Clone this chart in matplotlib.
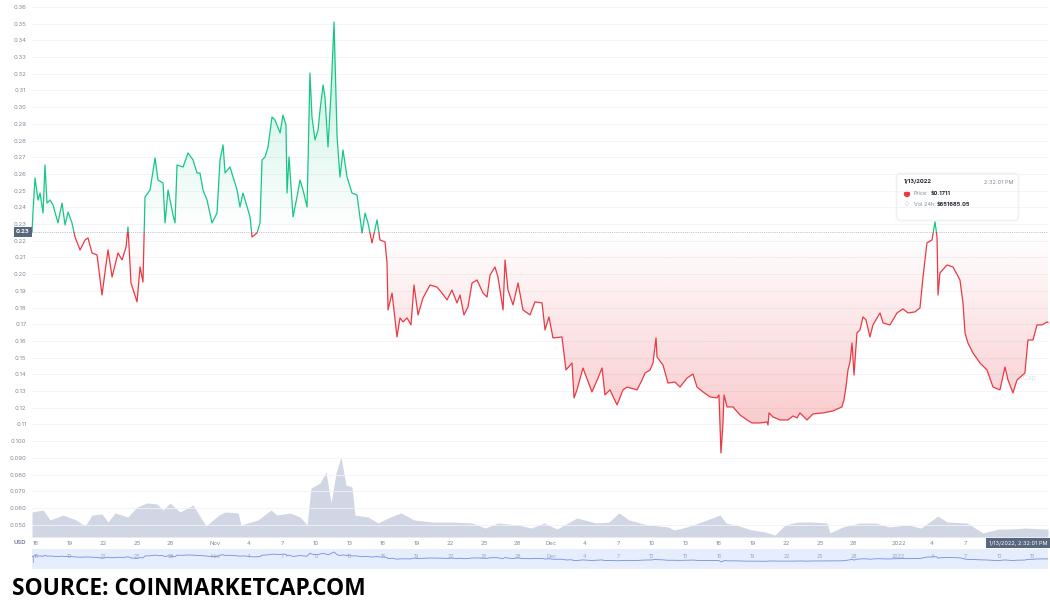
import numpy as np
import matplotlib.pyplot as plt
from matplotlib.patches import Rectangle, FancyBboxPatch, PathPatch, Circle
from matplotlib.colors import to_rgb

plt.rcParams['font.family'] = ['Inter', 'DejaVu Sans']

# price in USD, x = days counted from Oct 16, 2021
days = [-0.36, -0.27, -0.09, 0.18, 0.36, 0.63, 0.80, 0.98, 1.25, 1.52,
        1.96, 2.32, 2.59, 2.86, 3.21, 3.48, 3.93, 4.38, 4.64, 5.00,
        5.45, 5.89, 6.16, 6.43, 6.79, 7.32, 7.68, 8.04, 8.21, 8.48,
        9.02, 9.29, 9.55, 9.73, 10.18, 10.63, 10.89, 11.34, 11.52, 11.79,
        12.23, 12.41, 12.59, 13.13, 13.57, 14.02, 14.38, 14.64, 14.91, 15.27,
        15.71, 16.16, 16.43, 16.70, 16.88, 17.32, 17.95, 18.21, 18.48, 19.11,
        19.29, 19.73, 20.00, 20.18, 20.45, 20.71, 21.07, 21.34, 21.79, 22.05,
        22.32, 22.41, 22.59, 22.95, 23.30, 23.57, 23.84, 24.20, 24.46, 24.64,
        24.91, 25.18, 25.36, 25.63, 25.80, 26.07, 26.34, 26.61, 26.88, 27.14,
        27.41, 27.77, 28.21, 28.66, 29.11, 29.38, 29.64, 30.00, 30.45, 30.71,
        31.16, 31.34, 31.43, 31.79, 32.23, 32.50, 32.77, 33.13, 33.48, 33.75,
        34.11, 34.55, 35.18, 35.80, 36.25, 36.70, 37.14, 37.59, 37.86, 38.21,
        38.57, 38.93, 39.38, 39.91, 40.27, 40.54, 40.98, 41.25, 41.70, 41.88,
        42.14, 42.59, 43.04, 43.48, 44.11, 44.55, 45.18, 45.45, 45.80, 46.16,
        46.96, 47.32, 47.86, 48.04, 48.30, 48.84, 49.64, 50.18, 50.54, 50.80,
        51.25, 51.88, 52.41, 52.77, 53.66, 54.11, 54.38, 54.82, 55.09, 55.36,
        55.45, 55.98, 56.43, 57.05, 57.50, 58.13, 58.66, 59.02, 59.55, 60.18,
        60.80, 60.98, 61.16, 61.34, 61.43, 61.70, 62.23, 62.86, 63.48, 63.93,
        64.64, 65.27, 65.36, 65.45, 65.80, 66.43, 67.14, 67.59, 67.95, 68.21,
        68.84, 69.38, 70.27, 71.16, 71.96, 72.14, 72.32, 72.50, 72.68, 72.86,
        73.04, 73.30, 73.57, 73.84, 74.11, 74.46, 74.73, 75.36, 75.63, 76.25,
        76.88, 77.41, 77.86, 78.48, 78.93, 79.20, 79.55, 80.00, 80.27, 80.45,
        80.54, 80.71, 81.34, 81.88, 82.50, 82.77, 82.95, 83.21, 83.66, 84.29,
        84.91, 85.45, 86.07, 86.52, 86.79, 87.23, 87.59, 88.30, 88.57, 89.02,
        89.38, 89.82, 90.27, 90.36]
price = [0.2253, 0.2372, 0.2576, 0.2444, 0.2486, 0.2366, 0.2654, 0.2426, 0.2444, 0.2414,
         0.2307, 0.2426, 0.2295, 0.2372, 0.2307, 0.2223, 0.2145, 0.2205, 0.2217, 0.2127,
         0.2115, 0.1875, 0.2013, 0.2145, 0.1983, 0.2127, 0.2085, 0.2163, 0.2283, 0.1947,
         0.1834, 0.2043, 0.1953, 0.2462, 0.2504, 0.2696, 0.2564, 0.2546, 0.2307, 0.2504,
         0.2354, 0.2307, 0.2654, 0.2642, 0.2726, 0.2684, 0.2606, 0.2606, 0.2504, 0.2444,
         0.2307, 0.2366, 0.2684, 0.2774, 0.2606, 0.2642, 0.2504, 0.2402, 0.2486, 0.2343,
         0.2223, 0.2247, 0.2307, 0.2684, 0.2702, 0.2762, 0.2941, 0.2923, 0.2846, 0.2953,
         0.2893, 0.2486, 0.2702, 0.2343, 0.2462, 0.2564, 0.2504, 0.2402, 0.3205, 0.2941,
         0.2804, 0.2863, 0.2983, 0.3133, 0.3061, 0.2762, 0.3085, 0.3510, 0.2822, 0.2582,
         0.2744, 0.2582, 0.2486, 0.2474, 0.2247, 0.2366, 0.2307, 0.2187, 0.2325, 0.2205,
         0.2193, 0.2067, 0.1786, 0.1887, 0.1624, 0.1738, 0.1714, 0.1738, 0.1696, 0.1935,
         0.1756, 0.1857, 0.1935, 0.1923, 0.1887, 0.1846, 0.1905, 0.1828, 0.1875, 0.1756,
         0.1804, 0.1947, 0.1965, 0.1887, 0.1863, 0.1995, 0.2043, 0.1983, 0.1786, 0.2085,
         0.1905, 0.1816, 0.1947, 0.1786, 0.1756, 0.1834, 0.1828, 0.1666, 0.1744, 0.1618,
         0.1624, 0.1426, 0.1468, 0.1259, 0.1307, 0.1438, 0.1295, 0.1378, 0.1438, 0.1277,
         0.1307, 0.1217, 0.1307, 0.1324, 0.1307, 0.1366, 0.1408, 0.1426, 0.1468, 0.1618,
         0.1504, 0.1456, 0.1348, 0.1354, 0.1324, 0.1378, 0.1402, 0.1324, 0.1295, 0.1265,
         0.1259, 0.1277, 0.0929, 0.1109, 0.1277, 0.1205, 0.1205, 0.1157, 0.1127, 0.1109,
         0.1109, 0.1115, 0.1097, 0.1169, 0.1145, 0.1127, 0.1127, 0.1151, 0.1139, 0.1169,
         0.1127, 0.1163, 0.1169, 0.1181, 0.1205, 0.1247, 0.1324, 0.1426, 0.1474, 0.1588,
         0.1396, 0.1648, 0.1666, 0.1744, 0.1726, 0.1624, 0.1696, 0.1768, 0.1708, 0.1696,
         0.1768, 0.1792, 0.1768, 0.1774, 0.1798, 0.1983, 0.2187, 0.2205, 0.2313, 0.2223,
         0.1875, 0.2007, 0.2055, 0.2043, 0.1965, 0.1828, 0.1648, 0.1588, 0.1528, 0.1468,
         0.1426, 0.1324, 0.1307, 0.1444, 0.1366, 0.1289, 0.1366, 0.1408, 0.1606, 0.1606,
         0.1696, 0.1696, 0.1714, 0.1711]
base_price = 0.2253

# 24h volume, millions of USD
vol_days = [-0.36, 0.63, 1.25, 2.41, 3.57, 4.38, 5.00, 5.89, 6.43, 7.05,
            8.21, 9.02, 9.91, 10.80, 11.34, 11.96, 12.86, 14.02, 15.18, 16.34,
            16.88, 18.04, 18.30, 19.82, 20.98, 21.52, 22.68, 23.57, 24.20, 24.55,
            25.36, 25.89, 26.34, 26.79, 27.23, 27.68, 28.21, 28.48, 29.64, 30.54,
            31.43, 32.59, 33.75, 35.45, 37.23, 38.93, 40.09, 41.25, 43.04, 44.20,
            45.36, 46.52, 48.30, 50.00, 51.16, 52.05, 52.95, 54.64, 56.43, 56.96,
            58.13, 59.91, 61.07, 61.61, 62.77, 63.93, 65.09, 65.98, 66.88, 68.04,
            69.20, 70.63, 70.89, 72.05, 73.57, 75.00, 76.16, 77.86, 79.02, 80.54,
            81.34, 83.13, 84.55, 85.98, 87.14, 88.30, 90.09, 90.36]
vol_musd = [2.04, 2.20, 1.39, 1.79, 1.39, 0.90, 1.79, 1.87, 1.22, 1.96,
            1.63, 2.45, 2.77, 2.69, 2.20, 2.77, 2.04, 2.61, 0.90, 1.79,
            2.04, 1.96, 0.98, 1.39, 2.20, 1.79, 1.96, 1.63, 0.98, 3.99,
            4.40, 5.30, 2.77, 5.22, 6.52, 4.24, 4.08, 1.79, 1.63, 1.14,
            1.55, 1.96, 1.39, 1.22, 1.22, 1.14, 0.73, 1.14, 0.98, 0.73,
            1.14, 0.65, 1.55, 1.14, 1.22, 1.96, 1.39, 0.98, 0.82, 0.57,
            0.82, 1.39, 1.79, 1.14, 0.90, 0.57, 0.41, 0.16, 0.98, 1.22,
            1.22, 1.14, 0.33, 0.82, 1.14, 1.14, 0.82, 0.98, 0.73, 1.71,
            1.22, 1.14, 0.33, 0.65, 0.65, 0.73, 0.65, 0.65]

tick_days = [0, 3, 6, 9, 12, 16, 19, 22, 25, 28, 31, 34, 37, 40, 43,
             46, 49, 52, 55, 58, 61, 64, 67, 70, 73, 77, 80, 83, 86, 89]
tick_labels = ['16', '19', '22', '25', '28', 'Nov', '4', '7', '10', '13', '16', '19', '22', '25', '28',
               'Dec', '4', '7', '10', '13', '16', '19', '22', '25', '28', '2022', '4', '7', '10', '13']
y_ticks = [0.05, 0.06, 0.07, 0.08, 0.09, 0.10] + [round(0.11 + 0.01 * i, 2) for i in range(26)]
y_labels = ['0.050', '0.060', '0.070', '0.080', '0.090', '0.100'] + ['%.2f' % v for v in y_ticks[6:]]

GREEN = '#16c784'
RED = '#ea3943'
GREY = '#808a9d'
x0, x1 = -0.36, 90.36

fig = plt.figure(figsize=(10.5, 6), dpi=100)
ax = fig.add_axes([32 / 1050, 63 / 600, 1016 / 1050, 535 / 600])
ax_v = ax.twinx()
ax.set_zorder(ax_v.get_zorder() + 1)
ax.patch.set_visible(False)

# volume area
ax_v.fill_between(vol_days, vol_musd, 0, color='#d0d6e3', lw=0)
ax_v.set_ylim(0, 43.6)
ax_v.set_yticks([])
for s in ax_v.spines.values():
    s.set_visible(False)

# gridlines
for v in y_ticks:
    ax.axhline(v, color='#f1f2f5', lw=0.6, zorder=0)

# gradient fills, clipped by the area between price and baseline
poly = ax.fill_between(days, price, base_price, color='none', lw=0)
clip = PathPatch(poly.get_paths()[0], transform=ax.transData, facecolor='none', edgecolor='none')
ax.add_patch(clip)

g = np.zeros((256, 1, 4))
g[..., :3] = to_rgb(GREEN)
g[:, 0, 3] = np.linspace(0.28, 0.0, 256)
im_g = ax.imshow(g, extent=[x0, x1, base_price, 0.352], aspect='auto', origin='upper', zorder=1)
im_g.set_clip_path(clip)

r = np.zeros((256, 1, 4))
r[..., :3] = to_rgb(RED)
r[:, 0, 3] = np.linspace(0.0, 0.30, 256)
im_r = ax.imshow(r, extent=[x0, x1, 0.093, base_price], aspect='auto', origin='upper', zorder=1)
im_r.set_clip_path(clip)

# price line, green above the baseline and red below
up = Rectangle((x0 - 5, base_price), 110, 1, transform=ax.transData)
down = Rectangle((x0 - 5, base_price - 1), 110, 1, transform=ax.transData)
lg, = ax.plot(days, price, color=GREEN, lw=0.9, zorder=3)
lg.set_clip_path(up)
lr, = ax.plot(days, price, color=RED, lw=0.9, zorder=3)
lr.set_clip_path(down)

ax.axhline(base_price, color='#b8bfcc', lw=0.7, ls=(0, (1, 1.2)), zorder=2)

ax.set_xlim(x0, x1)
ax.set_ylim(0.0426, 0.363)
ax.set_yticks(y_ticks)
ax.set_yticklabels(y_labels)
# the last two day labels sit under the time tag in the reference
ax.set_xticks(tick_days[:-2])
ax.set_xticklabels(tick_labels[:-2])
ax.tick_params(length=0, labelsize=4.3, labelcolor=GREY, pad=3)
ax.tick_params(axis='y', pad=4)
for s in ax.spines.values():
    s.set_visible(False)

# current price tag on the y axis
ax.text(-0.002, base_price, '0.23', transform=ax.get_yaxis_transform(), ha='right', va='center',
        fontsize=4.3, color='white', fontweight='bold',
        bbox=dict(boxstyle='square,pad=0.35', facecolor='#58667e', edgecolor='none'))

# watermark
ax.text(84.8, 0.138, 'CoinMarketCap', fontsize=5.0, color='#dde1e8', ha='left', va='center', zorder=2)

# navigator strip
ax_n = fig.add_axes([32 / 1050, 31 / 600, 1016 / 1050, 20 / 600])
ax_n.set_facecolor('#e6edfc')
ax_n.plot(days, price, color='#6f8fe6', lw=0.6)
ax_n.set_xlim(x0, x1)
ax_n.set_ylim(-0.092, 0.428)
ax_n.set_xticks([])
ax_n.set_yticks([])
for s in ax_n.spines.values():
    s.set_visible(False)
for d, lab in zip(tick_days, tick_labels):
    ax_n.text(d, 0.22, lab, fontsize=3.8, color='#9aa6bd', ha='center', va='center')
ax_n.axvline(x0 + 0.1, color='#9aa6bd', lw=0.6, ymin=0.35, ymax=0.65)

# labels under the chart
fig.text(20 / 1050, 1 - 543 / 600, 'USD', fontsize=4.3, color=GREY, fontweight='bold', ha='center', va='center')
fig.text(1018 / 1050, 1 - 543 / 600, '1/13/2022, 2:32:01 PM', fontsize=4.0, color='white',
         ha='center', va='center',
         bbox=dict(boxstyle='square,pad=0.45', facecolor='#58667e', edgecolor='none'))

# tooltip
tr = fig.dpi_scale_trans
for k, a in [(2.0, 0.03), (1.0, 0.05)]:
    fig.add_artist(FancyBboxPatch((8.97 - k / 100, (600 - 220 - k) / 100), 1.21 + 2 * k / 100, 0.46 + 2 * k / 100,
                                  boxstyle='round,pad=0,rounding_size=0.05', transform=tr,
                                  facecolor='#58667e', edgecolor='none', alpha=a))
fig.add_artist(FancyBboxPatch((8.97, 3.80), 1.21, 0.46, boxstyle='round,pad=0,rounding_size=0.04',
                              transform=tr, facecolor='white', edgecolor='#eef0f4', lw=0.5))
fig.text(9.04, 6 - 1.82, '1/13/2022', transform=tr, fontsize=4.2, color='#222531', fontweight='bold', va='center')
fig.text(10.13, 6 - 1.82, '2:32:01 PM', transform=tr, fontsize=4.0, color=GREY, ha='right', va='center')
fig.add_artist(Circle((9.07, 6 - 1.94), 0.025, transform=tr, color=RED))
fig.text(9.14, 6 - 1.94, 'Price:', transform=tr, fontsize=4.0, color=GREY, va='center')
fig.text(9.305, 6 - 1.94, '$0.1711', transform=tr, fontsize=4.0, color='#222531', fontweight='bold', va='center')
fig.text(9.04, 6 - 2.045, '\u2662', transform=tr, fontsize=5.0, color='#5c74c9', va='center', family=['DejaVu Sans'])
fig.text(9.14, 6 - 2.045, 'Vol 24h:', transform=tr, fontsize=4.0, color=GREY, va='center')
fig.text(9.365, 6 - 2.045, '$651685.05', transform=tr, fontsize=4.0, color='#222531', fontweight='bold', va='center')

# source line
fig.text(12 / 1050, 1 - 589 / 600, 'SOURCE: COINMARKETCAP.COM', fontsize=16.4, color='black',
         fontweight='bold', family=['Open Sans', 'DejaVu Sans'], ha='left', va='center')

fig.savefig('out.png', dpi=100, facecolor='white')
